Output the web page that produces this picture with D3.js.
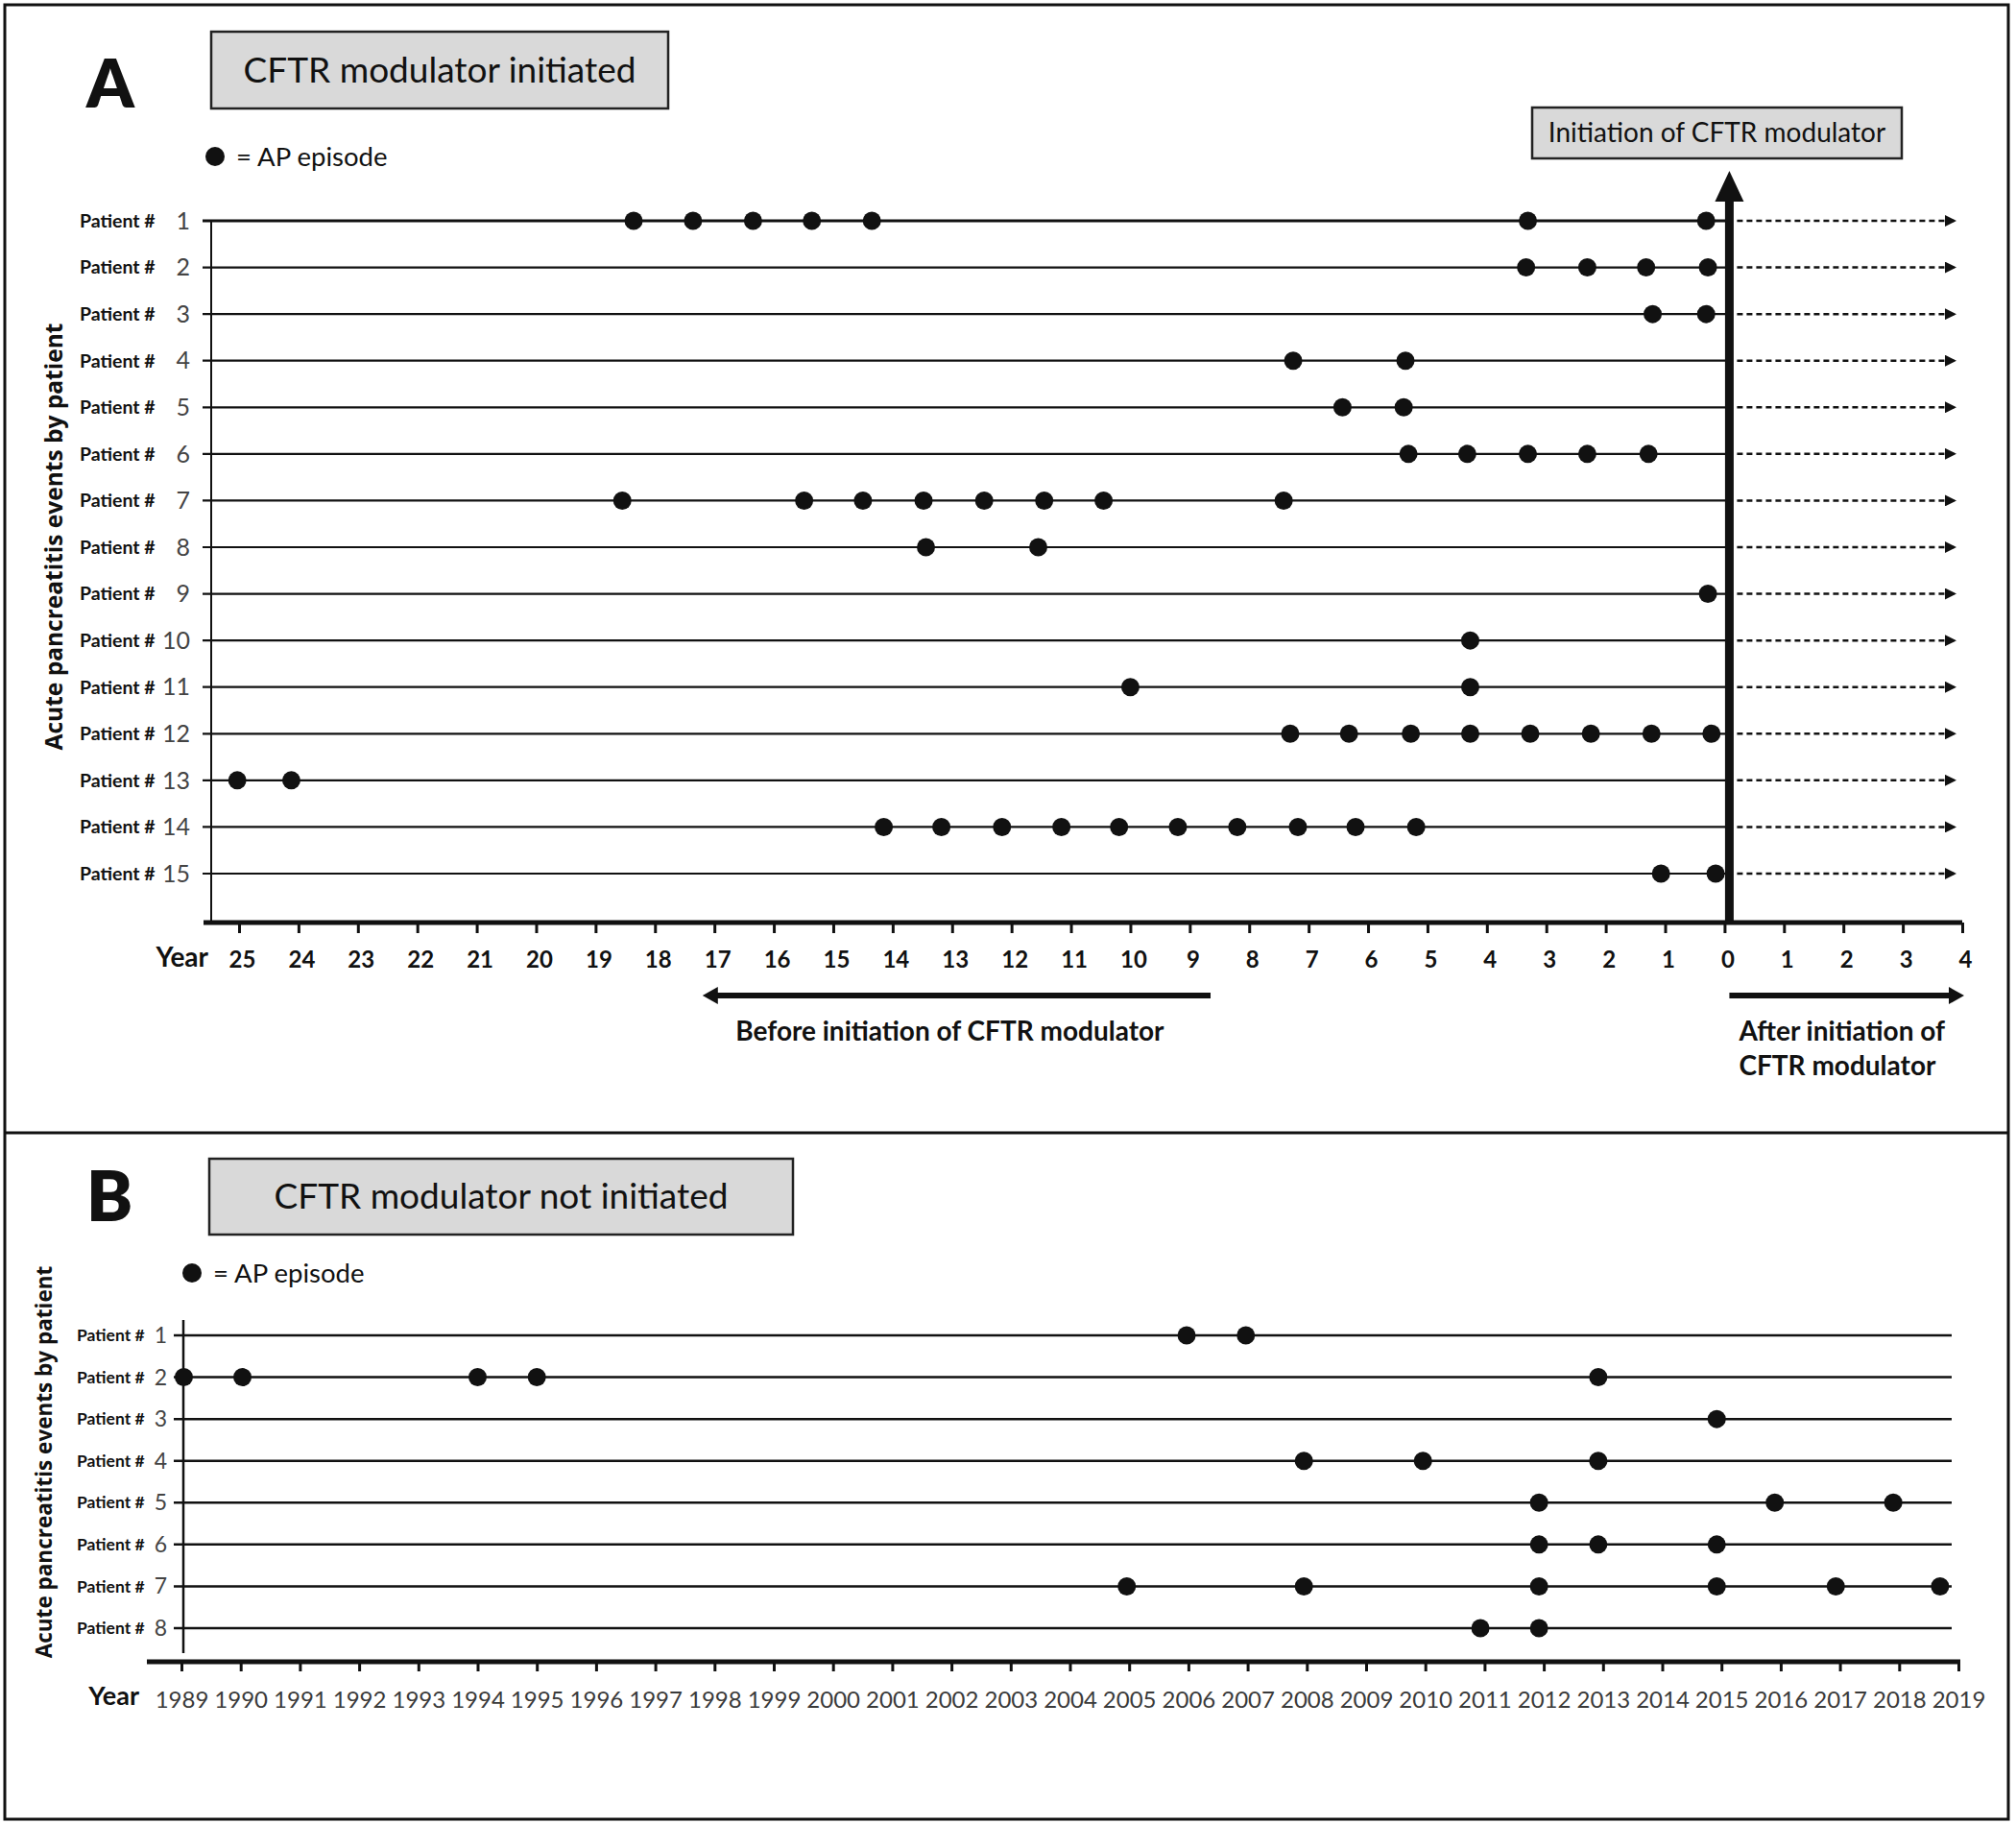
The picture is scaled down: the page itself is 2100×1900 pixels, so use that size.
<!DOCTYPE html>
<html>
<head>
<meta charset="utf-8">
<script src="https://cdn.jsdelivr.net/npm/d3@7"></script>
<style>
  body { margin: 0; background: #fff; }
  svg { display: block; font-family: Lato, "Open Sans", sans-serif; }
</style>
</head>
<body>
<div id="chart"></div>
<script>
// Panel A: years relative to CFTR modulator start (negative = before)
const modulatorPatients = [1, 2, 3, 4, 5, 6, 7, 8, 9, 10, 11, 12, 13, 14, 15];
const modulatorTicks = [-25, -24, -23, -22, -21, -20, -19, -18, -17, -16, -15, -14, -13, -12, -11, -10,
  -9, -8, -7, -6, -5, -4, -3, -2, -1, 0, 1, 2, 3, 4];
const modulatorEpisodes = [
  [-18.36, -17.36, -16.35, -15.36, -14.35, -3.31, -0.31],
  [-3.34, -2.31, -1.32, -0.28],
  [-1.21, -0.31],
  [-7.26, -5.37],
  [-6.43, -5.4],
  [-5.32, -4.33, -3.31, -2.31, -1.28],
  [-18.55, -15.49, -14.5, -13.48, -12.46, -11.45, -10.45, -7.42],
  [-13.44, -11.55],
  [-0.28],
  [-4.28],
  [-10.0, -4.28],
  [-7.31, -6.32, -5.28, -4.28, -3.27, -2.25, -1.23, -0.22],
  [-25.03, -24.12],
  [-14.15, -13.18, -12.16, -11.16, -10.19, -9.2, -8.2, -7.18, -6.21, -5.19],
  [-1.07, -0.15],
];

// Panel B: calendar years
const noModulatorPatients = [1, 2, 3, 4, 5, 6, 7, 8];
const noModulatorYears = [1989, 1990, 1991, 1992, 1993, 1994, 1995, 1996, 1997, 1998, 1999, 2000, 2001,
  2002, 2003, 2004, 2005, 2006, 2007, 2008, 2009, 2010, 2011, 2012, 2013, 2014, 2015, 2016, 2017, 2018, 2019];
const noModulatorEpisodes = [
  [2005.97, 2006.97],
  [1989.04, 1990.03, 1994.0, 1995.0, 2012.92],
  [2014.92],
  [2007.95, 2009.96, 2012.92],
  [2011.92, 2015.9, 2017.9],
  [2011.92, 2012.92, 2014.92],
  [2004.96, 2007.95, 2011.92, 2014.92, 2016.93, 2018.69],
  [2010.93, 2011.92],
];

const ink = "#111";
const boxFill = "#d9d9d9";
const titleFont = "'Open Sans', sans-serif";

const svg = d3.select("#chart").append("svg")
  .attr("width", 2100)
  .attr("height", 1900)
  .attr("viewBox", [0, 0, 2100, 1900]);

svg.append("defs").append("marker")
  .attr("id", "row-arrow")
  .attr("viewBox", "0 0 12 12")
  .attr("refX", 12)
  .attr("refY", 6)
  .attr("markerWidth", 13)
  .attr("markerHeight", 12)
  .attr("markerUnits", "userSpaceOnUse")
  .attr("orient", "auto")
  .append("path")
  .attr("d", "M0,0L12,6L0,12Z")
  .attr("fill", ink);

// outer frame + divider
svg.append("rect")
  .attr("x", 5).attr("y", 5)
  .attr("width", 2087).attr("height", 1890)
  .attr("fill", "none").attr("stroke", ink).attr("stroke-width", 3);
svg.append("line")
  .attr("x1", 5).attr("x2", 2092)
  .attr("y1", 1180).attr("y2", 1180)
  .attr("stroke", ink).attr("stroke-width", 3);

function titleBox(g, { x, y, w, h, text, size }) {
  g.append("rect")
    .attr("x", x).attr("y", y).attr("width", w).attr("height", h)
    .attr("fill", boxFill).attr("stroke", "#222").attr("stroke-width", 2.5);
  g.append("text")
    .attr("x", x + w / 2).attr("y", y + h / 2)
    .attr("dy", "0.35em")
    .attr("text-anchor", "middle")
    .attr("font-size", size)
    .attr("fill", ink)
    .text(text);
}

function legend(g, x, y) {
  g.append("circle").attr("cx", x).attr("cy", y).attr("r", 10).attr("fill", ink);
  g.append("text")
    .attr("x", x + 22).attr("y", y)
    .attr("dy", "0.35em")
    .attr("font-size", 27.5)
    .attr("fill", ink)
    .text("= AP episode");
}

function yTitle(g, x, y, size) {
  g.append("text")
    .attr("transform", `translate(${x},${y}) rotate(-90)`)
    .attr("text-anchor", "middle")
    .attr("dy", "0.35em")
    .attr("font-family", titleFont)
    .attr("font-weight", 700)
    .attr("font-size", size)
    .attr("fill", ink)
    .text("Acute pancreatitis events by patient");
}

function patientLabels(rows, { left, right, labelSize, numSize }) {
  rows.append("text")
    .attr("x", left)
    .attr("dy", "0.35em")
    .attr("font-size", labelSize)
    .attr("font-weight", 700)
    .attr("fill", ink)
    .text("Patient #");
  rows.append("text")
    .attr("x", right)
    .attr("dy", "0.35em")
    .attr("text-anchor", "end")
    .attr("font-size", numSize)
    .attr("fill", "#444")
    .text((d) => d);
}

/* ---------- Panel A ---------- */
const gA = svg.append("g");
const xA = d3.scaleLinear().domain([-25, 4]).range([249, 2044]);
const yA = d3.scalePoint().domain(modulatorPatients).range([230, 910]);
const axisYA = 961;
const yAxisXA = xA.range()[0] - 29;
const startX = xA(0) + 5;

gA.append("text")
  .attr("x", 115).attr("y", 112)
  .attr("text-anchor", "middle")
  .attr("font-size", 70)
  .attr("font-weight", 800)
  .attr("fill", ink)
  .text("A");
titleBox(gA, { x: 220, y: 33, w: 476, h: 80, text: "CFTR modulator initiated", size: 37 });
titleBox(gA, { x: 1596, y: 112, w: 385, h: 53, text: "Initiation of CFTR modulator", size: 28 });
legend(gA, 224, 163);
yTitle(gA, 56, 559, 24.5);

gA.append("line")
  .attr("x1", yAxisXA).attr("x2", yAxisXA)
  .attr("y1", yA(1)).attr("y2", axisYA)
  .attr("stroke", ink).attr("stroke-width", 2);

const rowsA = gA.append("g")
  .selectAll(".row")
  .data(modulatorPatients)
  .join("g")
  .attr("class", "row")
  .attr("transform", (d) => `translate(0,${yA(d)})`);

rowsA.append("line")
  .attr("x1", yAxisXA - 9).attr("x2", startX)
  .attr("stroke", ink).attr("stroke-width", (d) => (d === 1 ? 3 : 2.2));
rowsA.append("line")
  .attr("x1", startX + 8).attr("x2", xA(4) - 6)
  .attr("stroke", ink).attr("stroke-width", 2.5)
  .attr("stroke-dasharray", "6,4")
  .attr("marker-end", "url(#row-arrow)");
rowsA.selectAll("circle")
  .data((d, i) => modulatorEpisodes[i])
  .join("circle")
  .attr("cx", (d) => xA(d))
  .attr("r", 9.5)
  .attr("fill", ink);
patientLabels(rowsA, { left: 83, right: 198, labelSize: 19.5, numSize: 25 });

// initiation arrow
gA.append("line")
  .attr("x1", startX).attr("x2", startX)
  .attr("y1", axisYA).attr("y2", 204)
  .attr("stroke", ink).attr("stroke-width", 9);
gA.append("path")
  .attr("d", `M${startX - 15},210L${startX},178L${startX + 15},210Z`)
  .attr("fill", ink);

// year axis
gA.append("g")
  .attr("transform", `translate(0,${axisYA})`)
  .call(
    d3.axisBottom(xA)
      .tickValues(modulatorTicks)
      .tickFormat((d) => Math.abs(d))
      .tickSize(11)
      .tickPadding(19)
      .tickSizeOuter(0)
  )
  .call((g) => g.select(".domain").remove())
  .call((g) => g.selectAll(".tick line").attr("stroke", ink).attr("stroke-width", 3))
  .call((g) =>
    g.selectAll(".tick text")
      .attr("dx", 3)
      .attr("fill", ink)
      .attr("font-family", "Lato, sans-serif")
      .attr("font-size", 24)
      .attr("font-weight", 700)
  )
  .call((g) =>
    g.insert("line", ":first-child")
      .attr("x1", yAxisXA - 8).attr("x2", xA(4))
      .attr("stroke", ink).attr("stroke-width", 5)
  );

gA.append("text")
  .attr("x", 217).attr("y", 1007)
  .attr("text-anchor", "end")
  .attr("font-size", 28)
  .attr("font-weight", 700)
  .attr("fill", ink)
  .text("Year");

// before / after arrows
const beforeY = 1037;
gA.append("line")
  .attr("x1", xA(-17.2) + 14).attr("x2", xA(-8.65))
  .attr("y1", beforeY).attr("y2", beforeY)
  .attr("stroke", ink).attr("stroke-width", 6);
gA.append("path")
  .attr("d", `M${xA(-17.2)},${beforeY}L${xA(-17.2) + 16},${beforeY - 9}L${xA(-17.2) + 16},${beforeY + 9}Z`)
  .attr("fill", ink);
gA.append("line")
  .attr("x1", startX).attr("x2", xA(4) - 14)
  .attr("y1", beforeY).attr("y2", beforeY)
  .attr("stroke", ink).attr("stroke-width", 6);
gA.append("path")
  .attr("d", `M${xA(4) + 2},${beforeY}L${xA(4) - 14},${beforeY - 9}L${xA(4) - 14},${beforeY + 9}Z`)
  .attr("fill", ink);

gA.append("text")
  .attr("x", (xA(-17.2) + xA(-8.65)) / 2 - 7).attr("y", 1084)
  .attr("text-anchor", "middle")
  .attr("font-size", 28)
  .attr("font-weight", 700)
  .attr("fill", ink)
  .text("Before initiation of CFTR modulator");
gA.append("text")
  .attr("x", startX + 10).attr("y", 1084)
  .attr("font-size", 28)
  .attr("font-weight", 700)
  .attr("fill", ink)
  .call((t) => t.append("tspan").text("After initiation of"))
  .call((t) => t.append("tspan").attr("x", startX + 10).attr("dy", 36).text("CFTR modulator"));

/* ---------- Panel B ---------- */
const gB = svg.append("g");
const xB = d3.scaleLinear().domain([1989, 2019]).range([189, 2040]);
const yB = d3.scalePoint().domain(noModulatorPatients).range([1391, 1696]);
const axisYB = 1731;
const yAxisXB = xB(1989) + 2;

gB.append("text")
  .attr("x", 114).attr("y", 1272)
  .attr("text-anchor", "middle")
  .attr("font-size", 72)
  .attr("font-weight", 800)
  .attr("fill", ink)
  .text("B");
titleBox(gB, { x: 218, y: 1207, w: 608, h: 79, text: "CFTR modulator not initiated", size: 37 });
legend(gB, 200, 1326);
yTitle(gB, 46, 1523, 22.5);

gB.append("line")
  .attr("x1", yAxisXB).attr("x2", yAxisXB)
  .attr("y1", 1375).attr("y2", 1722)
  .attr("stroke", ink).attr("stroke-width", 2.5);

const rowsB = gB.append("g")
  .selectAll(".row")
  .data(noModulatorPatients)
  .join("g")
  .attr("class", "row")
  .attr("transform", (d) => `translate(0,${yB(d)})`);

rowsB.append("line")
  .attr("x1", yAxisXB - 10).attr("x2", xB(2019) - 7)
  .attr("stroke", ink).attr("stroke-width", 2.5);
rowsB.selectAll("circle")
  .data((d, i) => noModulatorEpisodes[i])
  .join("circle")
  .attr("cx", (d) => xB(d))
  .attr("r", 9.5)
  .attr("fill", ink);
patientLabels(rowsB, { left: 80, right: 174, labelSize: 17.5, numSize: 23 });

gB.append("g")
  .attr("transform", `translate(0,${axisYB})`)
  .call(
    d3.axisBottom(xB)
      .tickValues(noModulatorYears)
      .tickFormat(d3.format("d"))
      .tickSize(10)
      .tickPadding(21)
      .tickSizeOuter(0)
  )
  .call((g) => g.select(".domain").remove())
  .call((g) => g.selectAll(".tick line").attr("stroke", ink).attr("stroke-width", 3))
  .call((g) =>
    g.selectAll(".tick text")
      .attr("fill", "#3a3a3a")
      .attr("font-family", "Lato, sans-serif")
      .attr("font-size", 24)
  )
  .call((g) =>
    g.insert("line", ":first-child")
      .attr("x1", yAxisXB - 38).attr("x2", xB(2019) + 2)
      .attr("stroke", ink).attr("stroke-width", 5)
  );

gB.append("text")
  .attr("x", 145).attr("y", 1776)
  .attr("text-anchor", "end")
  .attr("font-size", 27)
  .attr("font-weight", 700)
  .attr("fill", ink)
  .text("Year");
</script>
</body>
</html>
